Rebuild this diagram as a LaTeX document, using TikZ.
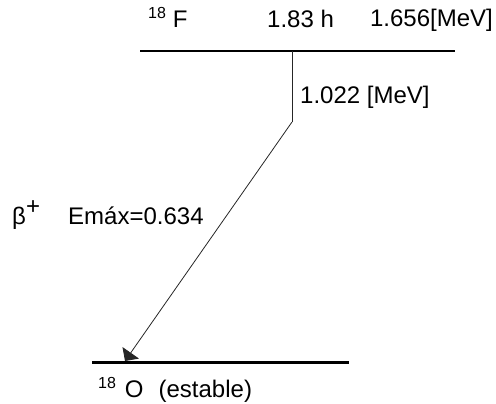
\documentclass[tikz,border=0pt]{standalone}
\usepackage{fontspec}
\setmainfont{Liberation Sans}
\usepackage{tikz}
\usetikzlibrary{arrows.meta}
\newcommand{\isotope}[2]{{\fontsize{16}{16}\selectfont\raisebox{9pt}{#1}}#2}
\tikzset{
  dllabel/.style={
    anchor=base west,
    inner sep=0pt,
    font=\fontsize{24}{28}\selectfont
  },
  dllevel/.style={line width=1.1pt, draw=black},
  dlground/.style={dllevel, line width=3pt},
  dlstem/.style={line width=1pt, draw=black!85},
  dlarrow/.style={-{Triangle[length=10pt,width=20pt]}, line width=0.8pt, draw=black!85}
}
\begin{document}
\begin{tikzpicture}[x=1pt, y=-1pt]
\useasboundingbox (0,0) rectangle (496,404);
\coordinate (fl) at (140,51);
\coordinate (fr) at (455,51);
\coordinate (ol) at (92,362.5);
\coordinate (or) at (349,362.5);
\coordinate (t0) at (292,51);
\coordinate (t1) at (292,122);
\coordinate (t2) at (125,361);
\node[dllabel] (fnuc) at (148,28) {\isotope{18}{\hspace{7pt}F}};
\node[dllabel] (half) at (267,28) {1.83 h};
\node[dllabel, anchor=base east] (qval) at (493,27) {1.656[MeV]};
\node[dllabel] (thresh) at (300,104) {1.022 [MeV]};
\node[dllabel] (beta) at (12,224) {β\raisebox{10pt}{+}};
\node[dllabel] (emax) at (68,224) {Emáx=0.634};
\node[dllabel] (onuc) at (98,397) {\isotope{18}{\hspace{9pt}O}\hspace{15pt}(estable)};
\draw[dllevel] (fl) -- (fr);
\draw[dlground] (ol) -- (or);
\draw[dlstem] (t0) -- (t1);
\draw[dlarrow] (t1) -- (t2);
\end{tikzpicture}
\end{document}
